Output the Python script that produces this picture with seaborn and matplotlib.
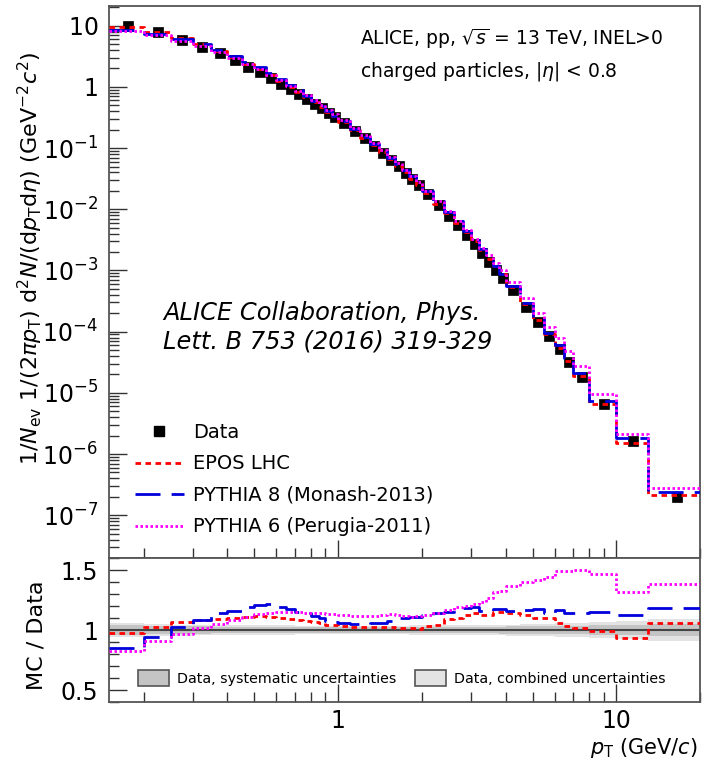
import numpy as np
import pandas as pd
import matplotlib
matplotlib.use("Agg")
import matplotlib.pyplot as plt
import seaborn as sns
from matplotlib.ticker import LogLocator, FixedLocator, FuncFormatter, NullFormatter, MultipleLocator
from matplotlib.lines import Line2D
from matplotlib.patches import Patch

# ---- binning (GeV/c) ----
pt_edges = [0.15, 0.2, 0.25, 0.3, 0.35, 0.4, 0.45, 0.5, 0.55, 0.6, 0.65, 0.7, 0.75,
            0.8, 0.85, 0.9, 0.95, 1.0, 1.1, 1.2, 1.3, 1.4, 1.5, 1.6, 1.7, 1.8, 1.9,
            2.0, 2.2, 2.4, 2.6, 2.8, 3.0, 3.2, 3.4, 3.6, 3.8, 4.0, 4.5, 5.0, 5.5,
            6.0, 6.5, 7.0, 8.0, 10.0, 13.0, 20.0]

# ---- measured invariant yield ----
data_yield = [9.95, 7.85, 5.87, 4.56, 3.56, 2.76, 2.15, 1.74, 1.39, 1.12, 0.91, 0.76,
              0.635, 0.53, 0.445, 0.375, 0.318, 0.258, 0.193, 0.145, 0.109, 0.0835,
              0.0645, 0.0503, 0.0395, 0.0311, 0.0247, 0.0178, 0.0118, 0.0079, 0.00545,
              0.0038, 0.00268, 0.00192, 0.00139, 0.00102, 0.00076, 0.00048, 0.000255,
              0.000142, 8.4e-5, 5.2e-5, 3.25e-5, 1.85e-5, 6.5e-6, 1.62e-6, 2.0e-7]

# ---- MC / data ratios ----
ratio_epos = [0.972, 1.022, 1.069, 1.083, 1.089, 1.103, 1.111, 1.117, 1.111, 1.103,
              1.092, 1.083, 1.075, 1.067, 1.056, 1.044, 1.039, 1.033, 1.028, 1.022,
              1.022, 1.022, 1.025, 1.020, 1.020, 1.015, 1.012, 1.030, 1.040, 1.090,
              1.100, 1.125, 1.140, 1.125, 1.125, 1.153, 1.150, 1.140, 1.125, 1.100,
              1.100, 1.055, 1.033, 1.014, 0.995, 0.936, 1.061]
ratio_py8 = [0.853, 0.944, 1.022, 1.083, 1.139, 1.161, 1.194, 1.208, 1.217, 1.194,
             1.172, 1.153, 1.139, 1.117, 1.097, 1.078, 1.069, 1.061, 1.050, 1.050,
             1.056, 1.056, 1.078, 1.097, 1.097, 1.110, 1.110, 1.125, 1.144, 1.153,
             1.167, 1.180, 1.190, 1.158, 1.158, 1.172, 1.172, 1.160, 1.167, 1.172,
             1.144, 1.167, 1.144, 1.144, 1.153, 1.125, 1.180]
ratio_py6 = [0.825, 0.911, 0.967, 1.014, 1.050, 1.083, 1.111, 1.133, 1.144, 1.153,
             1.153, 1.147, 1.144, 1.139, 1.139, 1.133, 1.131, 1.125, 1.120, 1.117,
             1.117, 1.125, 1.130, 1.125, 1.120, 1.110, 1.115, 1.125, 1.144, 1.167,
             1.190, 1.200, 1.217, 1.236, 1.270, 1.320, 1.328, 1.367, 1.400, 1.420,
             1.444, 1.494, 1.490, 1.500, 1.464, 1.320, 1.383]

# ---- relative uncertainties of the data ----
rel_sys = [0.040, 0.035, 0.032, 0.030, 0.028, 0.027, 0.026, 0.025, 0.025, 0.024,
           0.024, 0.023, 0.023, 0.022, 0.022, 0.022, 0.022, 0.022, 0.022, 0.022,
           0.022, 0.022, 0.023, 0.023, 0.023, 0.024, 0.024, 0.024, 0.025, 0.025,
           0.026, 0.026, 0.027, 0.027, 0.028, 0.028, 0.029, 0.030, 0.031, 0.032,
           0.033, 0.034, 0.035, 0.037, 0.040, 0.045, 0.050]
rel_comb = [0.055, 0.050, 0.046, 0.044, 0.042, 0.041, 0.040, 0.039, 0.039, 0.038,
            0.038, 0.037, 0.037, 0.036, 0.036, 0.036, 0.036, 0.036, 0.036, 0.036,
            0.036, 0.036, 0.037, 0.037, 0.037, 0.038, 0.038, 0.038, 0.039, 0.039,
            0.040, 0.040, 0.041, 0.042, 0.043, 0.044, 0.045, 0.046, 0.048, 0.050,
            0.052, 0.055, 0.058, 0.062, 0.068, 0.078, 0.090]

series_labels = ["EPOS LHC", "PYTHIA 8 (Monash-2013)", "PYTHIA 6 (Perugia-2011)"]
series_colors = ["#ff0000", "#0000dd", "#ff00ff"]
series_dashes = [(0, (2.0, 1.6)), (0, (9.0, 4.0)), (0, (0.9, 0.9))]

edges = np.array(pt_edges)
centers = 0.5 * (edges[:-1] + edges[1:])
yld = np.array(data_yield)
ratios = [np.array(ratio_epos), np.array(ratio_py8), np.array(ratio_py6)]

sns.set_theme(style="ticks")
plt.rcParams["font.family"] = ["DejaVu Sans"]
plt.rcParams["mathtext.fontset"] = "dejavusans"
plt.rcParams["axes.edgecolor"] = "#555555"
plt.rcParams["axes.linewidth"] = 1.3
for key in ("text.color", "axes.labelcolor", "xtick.labelcolor", "ytick.labelcolor"):
    plt.rcParams[key] = "black"

fig = plt.figure(figsize=(7.14, 7.68), dpi=100)
ax1 = fig.add_axes([0.1527, 0.2734, 0.8277, 0.7188])
ax2 = fig.add_axes([0.1527, 0.0859, 0.8277, 0.1875])


def stairs_frame(values):
    return pd.DataFrame({"pt": edges, "v": np.append(values, values[-1])})


# ---- spectrum panel ----
sns.scatterplot(x=centers, y=yld, marker="s", s=50, color="black", edgecolor="black",
                linewidth=0.5, ax=ax1, zorder=3, legend=False)
for r, col, ds in zip(ratios, series_colors, series_dashes):
    sns.lineplot(data=stairs_frame(r * yld), x="pt", y="v", drawstyle="steps-post",
                 estimator=None, sort=False, color=col, linestyle=ds, linewidth=2.0,
                 ax=ax1, zorder=4)

ax1.set_xscale("log")
ax1.set_yscale("log")
ax1.set_xlim(0.15, 20)
ax1.set_ylim(2e-8, 21)
ax1.set_xlabel("")
ax1.set_ylabel("")


def ylog_fmt(v, pos):
    e = int(round(np.log10(v)))
    if e == 1:
        return r"$10$"
    if e == 0:
        return r"$1$"
    return r"$10^{%d}$" % e


ax1.yaxis.set_major_locator(FixedLocator([10.0 ** k for k in range(-7, 2)]))
ax1.yaxis.set_major_formatter(FuncFormatter(ylog_fmt))
ax1.yaxis.set_minor_locator(LogLocator(base=10, subs=np.arange(2, 10), numticks=50))
ax1.yaxis.set_minor_formatter(NullFormatter())
for ax in (ax1, ax2):
    ax.xaxis.set_major_locator(FixedLocator([1.0, 10.0]))
    ax.xaxis.set_minor_locator(LogLocator(base=10, subs=np.arange(2, 10), numticks=50))
    ax.xaxis.set_minor_formatter(NullFormatter())
    ax.tick_params(which="both", direction="in", top=False, right=False,
                   color="#333333", width=1.0, labelsize=17)
    ax.tick_params(which="major", length=13)
    ax.tick_params(which="minor", length=7)
    ax.tick_params(axis="y", pad=8)
ax1.tick_params(axis="x", labelbottom=False)

ax1.text(0.424, 0.940, r"ALICE, pp, $\sqrt{s}$ = 13 TeV, INEL>0", transform=ax1.transAxes,
         fontsize=13.5, ha="left", va="center")
ax1.text(0.424, 0.882, r"charged particles, |$\eta$| < 0.8", transform=ax1.transAxes,
         fontsize=13.5, ha="left", va="center")
ax1.text(0.092, 0.4176, "ALICE Collaboration, Phys.\nLett. B 753 (2016) 319-329",
         transform=ax1.transAxes, fontsize=17.4, style="italic", ha="left", va="center",
         linespacing=1.24)

handles = [Line2D([], [], marker="s", ls="none", color="black", markersize=7)]
for col, ds in zip(series_colors, series_dashes):
    handles.append(Line2D([], [], color=col, linestyle=ds, linewidth=2.0))
ax1.legend(handles, ["Data"] + series_labels, loc="upper left",
           bbox_to_anchor=(135 / 714, 1 - 423 / 768), bbox_transform=fig.transFigure,
           frameon=False, fontsize=14, handlelength=2.5, handletextpad=0.5,
           labelspacing=0.64, borderpad=0, borderaxespad=0)

# ---- ratio panel ----
ax2.fill_between(edges, 1 - np.append(rel_comb, rel_comb[-1]),
                 1 + np.append(rel_comb, rel_comb[-1]), step="post",
                 color="#e3e3e3", linewidth=0, zorder=1)
ax2.fill_between(edges, 1 - np.append(rel_sys, rel_sys[-1]),
                 1 + np.append(rel_sys, rel_sys[-1]), step="post",
                 color="#c4c4c4", linewidth=0, zorder=1)
ax2.axhline(1.0, color="#444444", linewidth=1.5, zorder=2)
for r, col, ds in zip(ratios, series_colors, series_dashes):
    sns.lineplot(data=stairs_frame(r), x="pt", y="v", drawstyle="steps-post",
                 estimator=None, sort=False, color=col, linestyle=ds, linewidth=2.0,
                 ax=ax2, zorder=4)
ax2.set_xscale("log")
ax2.set_xlim(0.15, 20)
ax2.set_ylim(0.4, 1.6)
ax2.yaxis.set_major_locator(FixedLocator([0.5, 1.0, 1.5]))
ax2.yaxis.set_major_formatter(FuncFormatter(lambda v, p: "1" if abs(v - 1) < 1e-6 else ("%.1f" % v)))
ax2.yaxis.set_minor_locator(MultipleLocator(0.1))
ax2.xaxis.set_major_formatter(FuncFormatter(lambda v, p: "%d" % round(v)))
ax2.tick_params(axis="x", pad=5)
ax2.set_xlabel("")
ax2.set_ylabel("")

band_handles = [Patch(facecolor="#c4c4c4", edgecolor="#555555", linewidth=1.2),
                Patch(facecolor="#e3e3e3", edgecolor="#555555", linewidth=1.2)]
ax2.legend(band_handles, ["Data, systematic uncertainties", "Data, combined uncertainties"],
           loc="center left", bbox_to_anchor=(138 / 714, 1 - 678 / 768),
           bbox_transform=fig.transFigure, ncol=2, frameon=False, fontsize=10.3,
           handlelength=2.2, handleheight=1.35, handletextpad=0.55, columnspacing=1.25,
           borderpad=0, borderaxespad=0)

# ---- axis titles ----
fig.text(30 / 714, 1 - 258 / 768,
         r"1/$N_{\rm ev}$ 1/(2$\pi p_{\rm T}$) d$^{2}N$/(d$p_{\rm T}$d$\eta$) (GeV$^{-2}c^{2}$)",
         rotation=90, ha="center", va="center", fontsize=16)
fig.text(36 / 714, 1 - 635 / 768, "MC / Data", rotation=90, ha="center", va="center",
         fontsize=16)
fig.text(698 / 714, 1 - 748 / 768, r"$p_{\rm T}$ (GeV/$c$)", ha="right", va="center",
         fontsize=15)

fig.savefig("out.png", dpi=100)
